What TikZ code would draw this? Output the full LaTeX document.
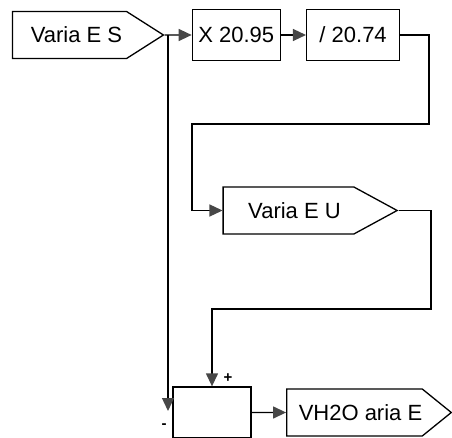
\documentclass[tikz,border=0pt]{standalone}
\usepackage{fontspec}
\setmainfont{Liberation Sans}
\usetikzlibrary{shapes.symbols, arrows.meta, positioning}

\begin{document}
\begin{tikzpicture}[
    x=1pt, y=-1pt,
    lbl/.style={font=\fontsize{22}{26}\selectfont},
    blk/.style={draw, lbl, line width=1.3pt, minimum height=51pt, inner sep=0pt},
    sig/.style={draw, lbl, line width=1.3pt, shape=signal, signal to=east, minimum height=47pt, inner sep=0pt},
    arr/.style={-{Triangle[length=13pt, width=12pt, color=black!72]}, line width=1.3pt},
    sgn/.style={font=\fontsize{15}{16}\selectfont\bfseries, inner sep=0pt}
]
\useasboundingbox (0,0) rectangle (452,438);
\node[sig, minimum width=151pt, signal pointer angle=65] (ves) at (69.5,35) {\hspace*{14pt}Varia E S};
\node[blk, minimum width=88pt, right=27pt of ves] (mul) {X 20.95};
\node[blk, minimum width=93pt, right=25pt of mul] (div) {/ 20.74};
\node[sig, minimum width=174pt, signal pointer angle=57] (veu) at (288.5,210.5) {\hspace*{12pt}Varia E U};
\node[blk, minimum width=78pt] (sum) at (212,412.5) {};
\node[sig, minimum width=164pt, signal pointer angle=78] (vh2o) at (354.5,412.5) {\hspace*{12pt}VH2O aria E};
\node[sgn] (plus) at (228,378) {+};
\node[sgn] (minus) at (164,426) {-};
% corners of the routed lines
\coordinate (j1) at (168,35);
\coordinate (k1) at (429,124);
\coordinate (k2) at (192,124);
\coordinate (k3) at (431,309);
\coordinate (sumin) at (168,411);
\draw[arr] (ves) -- (mul);
\draw[arr] (mul) -- (div);
\draw[arr] (div.east) -| (k1) -- (k2) |- (veu.west);
\draw[arr] (veu.east) -| (k3) -| (sum.north);
\draw[arr] (j1) -- (sumin);
\draw[arr] (sum) -- (vh2o);
\end{tikzpicture}
\end{document}
